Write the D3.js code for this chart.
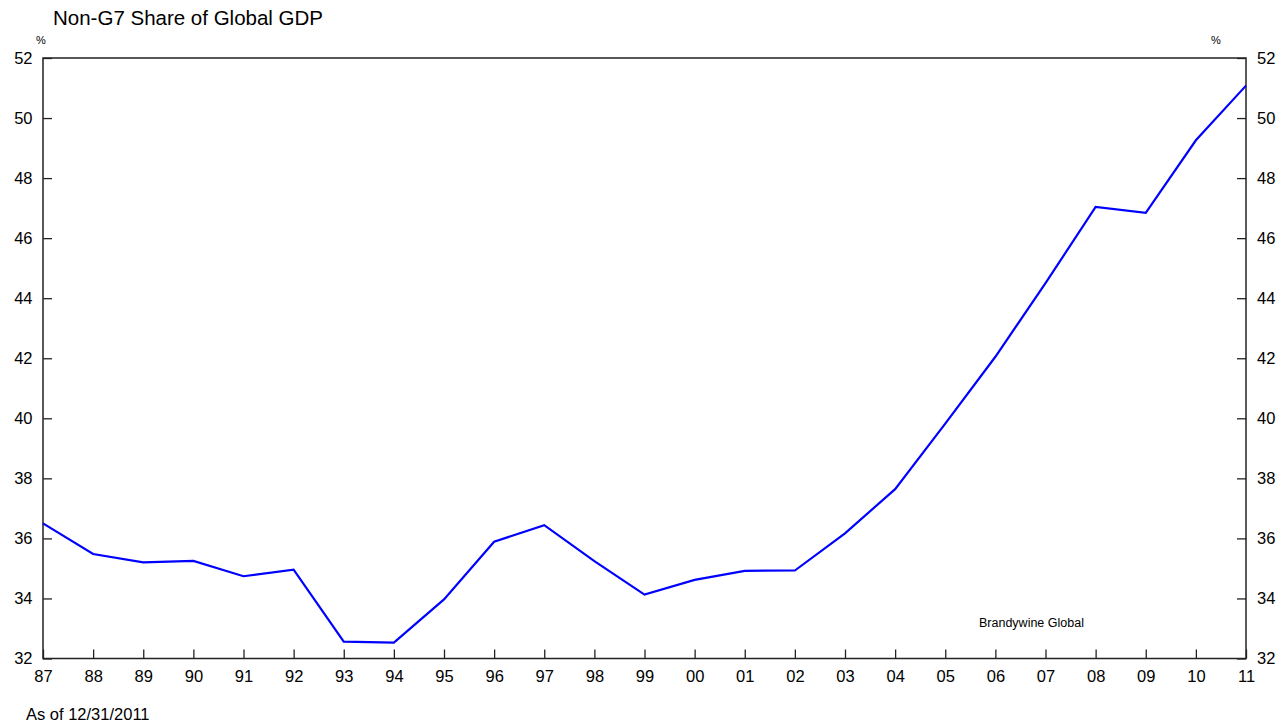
<!DOCTYPE html>
<html>
<head>
<meta charset="utf-8">
<script src="https://cdn.jsdelivr.net/npm/d3@7"></script>
<style>
  html, body { margin: 0; padding: 0; background: #fff; }
  svg { display: block; font-family: "Liberation Sans", Arial, sans-serif; }
</style>
</head>
<body>
<svg id="chart" width="1283" height="725"></svg>
<script>
// Year labels along the bottom axis (two-digit years, 1987–2011)
const years = ["87","88","89","90","91","92","93","94","95","96","97","98","99",
               "00","01","02","03","04","05","06","07","08","09","10","11"];

// Non-G7 economies' share of global GDP, percent
const shareValues = [36.50, 35.48, 35.20, 35.25, 34.74, 34.96, 32.56, 32.53, 33.97,
                     35.89, 36.44, 35.24, 34.13, 34.62, 34.92, 34.93, 36.17, 37.64,
                     39.82, 42.05, 44.50, 47.04, 46.84, 49.26, 51.08];

// Value-axis ticks, shared by left and right axes
const yTicks = [32, 34, 36, 38, 40, 42, 44, 46, 48, 50, 52];

const titleText = "Non-G7 Share of Global GDP";
const unitText = "%";
const sourceText = "Brandywine Global";
const dateText = "As of 12/31/2011";

const svg = d3.select("#chart");
const frame = { left: 43, right: 1246, top: 58, bottom: 658.5 };

const x = d3.scalePoint().domain(years).range([frame.left, frame.right]).padding(0);
const y = d3.scaleLinear().domain([32, 52]).range([frame.bottom, frame.top]);

const tickFont = 16.5;
const axisColor = "#222";

// Bottom axis: ticks point into the plot
const xAxis = svg.append("g")
  .attr("transform", `translate(0,${frame.bottom})`)
  .call(d3.axisBottom(x).tickSizeInner(-9).tickSizeOuter(0).tickPadding(12));

const leftAxis = svg.append("g")
  .attr("transform", `translate(${frame.left},0)`)
  .call(d3.axisLeft(y).tickValues(yTicks).tickFormat(d3.format("d"))
        .tickSizeInner(-9).tickSizeOuter(0).tickPadding(10.5));

const rightAxis = svg.append("g")
  .attr("transform", `translate(${frame.right},0)`)
  .call(d3.axisRight(y).tickValues(yTicks).tickFormat(d3.format("d"))
        .tickSizeInner(-9).tickSizeOuter(0).tickPadding(11));

[xAxis, leftAxis, rightAxis].forEach(g => {
  g.select(".domain").remove();
  g.selectAll(".tick line").attr("stroke", axisColor).attr("stroke-width", 1.3);
  g.selectAll(".tick text")
    .attr("fill", "#000")
    .style("font-family", '"Liberation Sans", Arial, sans-serif')
    .style("font-size", tickFont + "px");
});

// Plot frame
svg.append("rect")
  .attr("x", frame.left).attr("y", frame.top)
  .attr("width", frame.right - frame.left)
  .attr("height", frame.bottom - frame.top)
  .attr("fill", "none")
  .attr("stroke", axisColor)
  .attr("stroke-width", 1.5);

// Data line
const line = d3.line()
  .x((d, i) => x(years[i]))
  .y(d => y(d));

svg.append("path")
  .datum(shareValues)
  .attr("d", line)
  .attr("fill", "none")
  .attr("stroke", "#0000ff")
  .attr("stroke-width", 2.2)
  .attr("stroke-linejoin", "miter");

// Title and annotations
svg.append("text")
  .attr("x", 53).attr("y", 25)
  .style("font-size", "20.5px")
  .attr("fill", "#000")
  .text(titleText);

svg.append("text")
  .attr("x", 36).attr("y", 44)
  .style("font-size", "11px")
  .attr("fill", "#000")
  .text(unitText);

svg.append("text")
  .attr("x", 1211).attr("y", 44)
  .style("font-size", "11px")
  .attr("fill", "#000")
  .text(unitText);

svg.append("text")
  .attr("x", 979).attr("y", 626.5)
  .style("font-size", "12.5px")
  .attr("fill", "#000")
  .text(sourceText);

svg.append("text")
  .attr("x", 26).attr("y", 719.5)
  .style("font-size", "16.5px")
  .attr("fill", "#000")
  .text(dateText);
</script>
</body>
</html>
